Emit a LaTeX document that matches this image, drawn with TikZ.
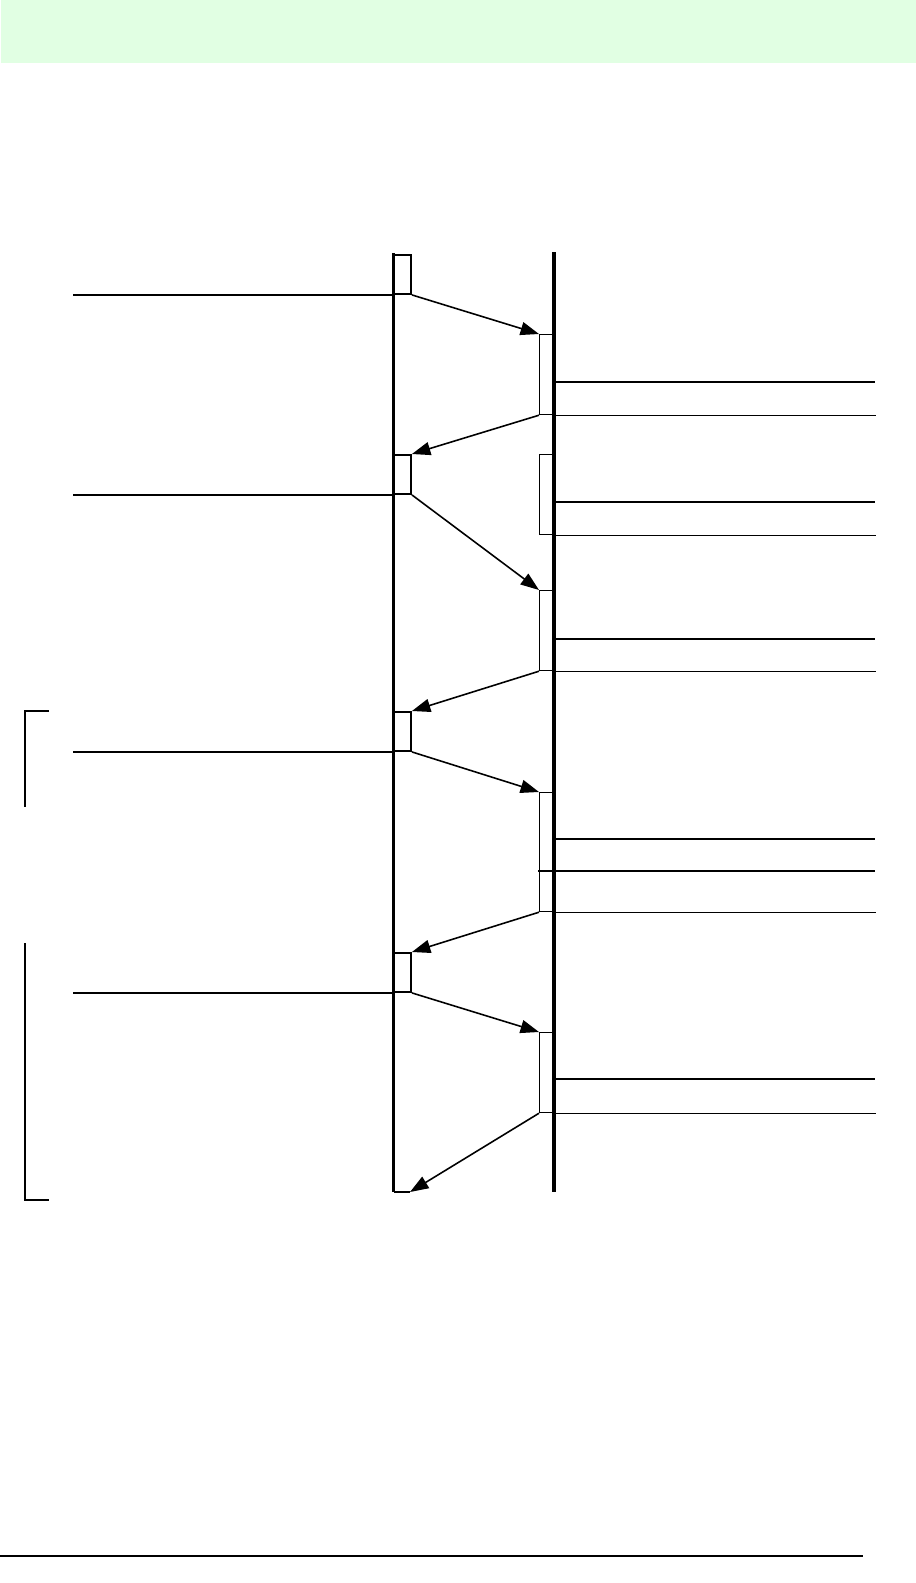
\documentclass[tikz,border=0pt]{standalone}
\usetikzlibrary{arrows.meta}
\definecolor{bandgreen}{HTML}{E1FFE3}
\tikzset{
  lbox/.style={draw, line width=1.1pt, inner sep=0pt, minimum width=0.33cm, minimum height=0.78cm, anchor=north west},
  rbox/.style={draw, line width=0.7pt, inner sep=0pt, minimum width=0.3cm, minimum height=1.6cm, anchor=north west},
  msg/.style={line width=0.9pt, -{Triangle[length=10.5pt,width=7.5pt]}},
  rule/.style={line width=0.75pt},
  life/.style={line width=1.8pt}
}
\begin{document}
\begin{tikzpicture}[x=0.02cm,y=-0.02cm]
\useasboundingbox (0,0) rectangle (916,1583);
\fill[bandgreen] (1,0) rectangle (916,63);

\node[lbox] (L1) at (393.5,254) {};
\node[lbox] (L2) at (393.5,454) {};
\node[lbox] (L3) at (393.5,711) {};
\node[lbox] (L4) at (393.5,952) {};

\node[rbox] (R1) at (539,334) {};
\node[rbox] (R2) at (539,454) {};
\node[rbox] (R3) at (539,590) {};
\node[rbox, minimum height=2.38cm] (R4) at (539,792) {};
\node[rbox] (R5) at (539,1032) {};

\coordinate (ltop) at (393.5,253);
\coordinate (lend) at (393.5,1192);
\coordinate (rtop) at (554,252);
\coordinate (rend) at (554,1192);
\coordinate (ret) at (410,1192);

\draw[life] (ltop) -- (lend);
\draw[life] (rtop) -- (rend);
\draw[line width=1.1pt] (lend) -- (ret);

\foreach \b in {L1,L2,L3,L4}
  \draw[rule] (\b.south west) -- ++(-321,0);
\foreach \b in {R1,R2,R3,R4,R5}
  \draw[rule] (\b.south east) -- ++(321,0);

\draw[rule] (554,382) -- (875,382);
\draw[rule] (554,502) -- (875,502);
\draw[rule] (554,639) -- (875,639);
\draw[rule] (554,839) -- (875,839);
\draw[rule] (538,871) -- (875,871);
\draw[rule] (554,1079) -- (875,1079);

\draw[msg] (L1.south east) -- (R1.north west);
\draw[msg] (R1.south west) -- (L2.north east);
\draw[msg] (L2.south east) -- (R3.north west);
\draw[msg] (R3.south west) -- (L3.north east);
\draw[msg] (L3.south east) -- (R4.north west);
\draw[msg] (R4.south west) -- (L4.north east);
\draw[msg] (L4.south east) -- (R5.north west);
\draw[msg] (R5.south west) -- (ret);

\draw[line width=1pt] (49,711) -- (25,711) -- (25,807);
\draw[line width=1pt] (25,943) -- (25,1200) -- (49,1200);

\draw[line width=0.9pt] (0,1556) -- (863,1556);
\end{tikzpicture}
\end{document}
